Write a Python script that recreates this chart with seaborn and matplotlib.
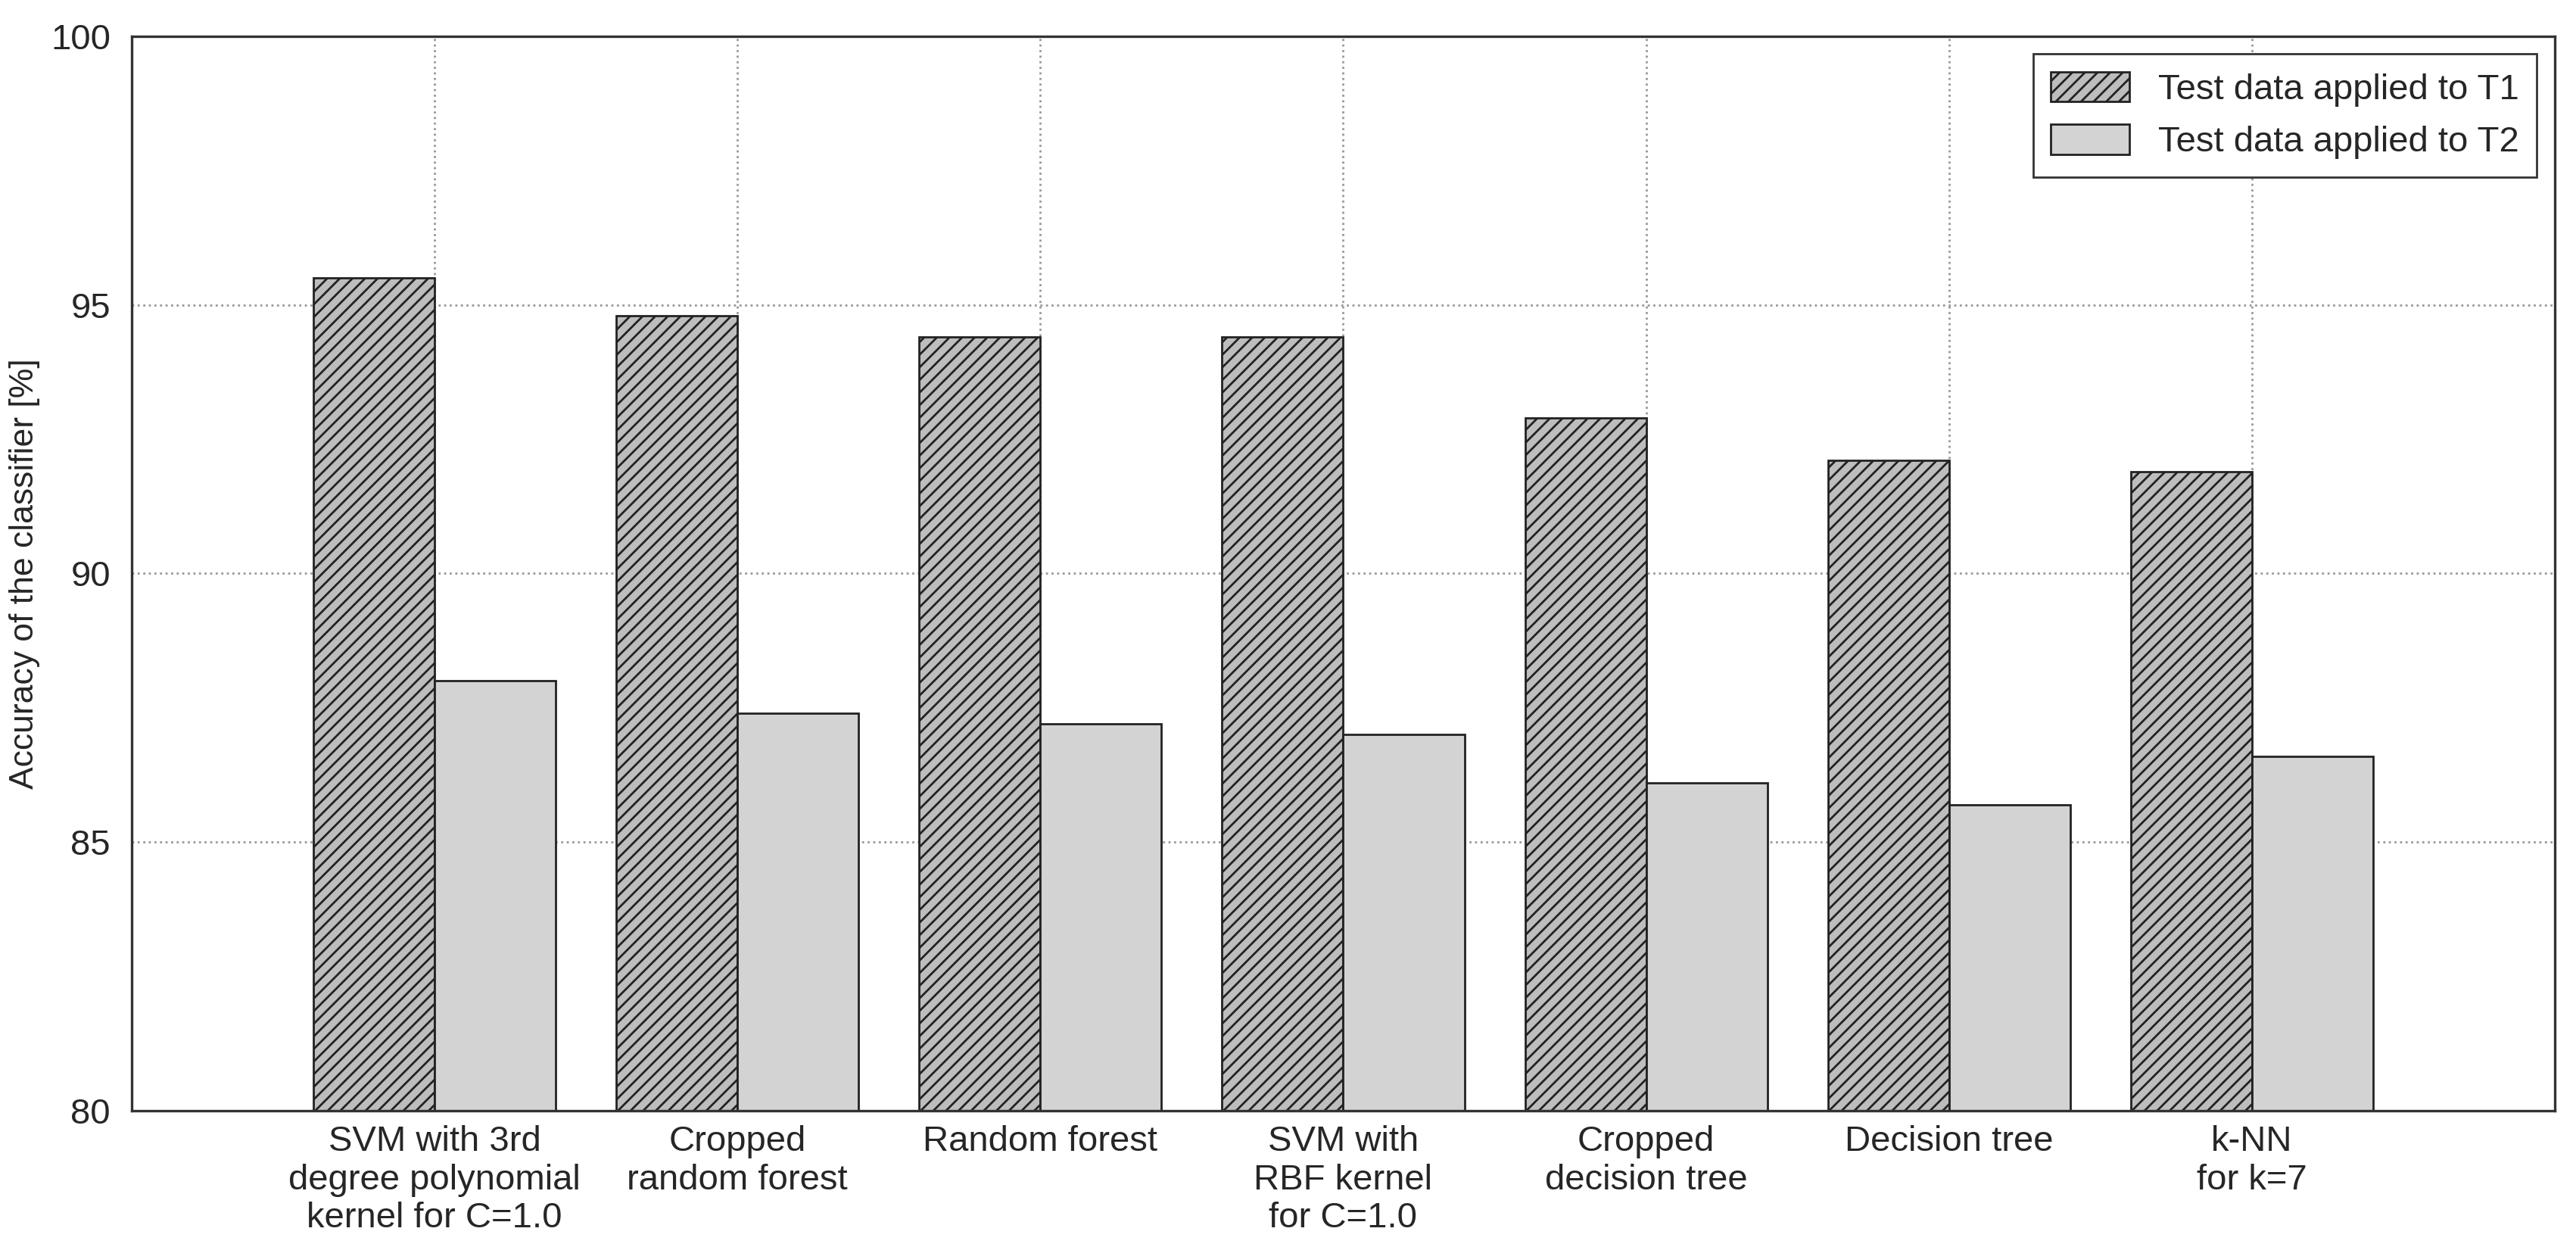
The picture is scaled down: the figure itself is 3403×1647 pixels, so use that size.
import matplotlib
matplotlib.use("Agg")
import matplotlib.pyplot as plt
import seaborn as sns
import pandas as pd
from matplotlib.patches import Patch

categories = [
    "SVM with 3rd\ndegree polynomial\nkernel for C=1.0",
    "Cropped\nrandom forest",
    "Random forest",
    "SVM with\nRBF kernel\nfor C=1.0",
    "Cropped\ndecision tree",
    "Decision tree",
    "k-NN\nfor k=7",
]
series_names = ["Test data applied to T1", "Test data applied to T2"]
t1_values = [95.5, 94.8, 94.4, 94.4, 92.9, 92.1, 91.9]
t2_values = [88.0, 87.4, 87.2, 87.0, 86.1, 85.7, 86.6]

df = pd.DataFrame({
    "classifier": categories * 2,
    "series": [series_names[0]] * len(categories) + [series_names[1]] * len(categories),
    "accuracy": t1_values + t2_values,
})

sns.set_style("white")
plt.rcParams["font.family"] = ["Liberation Sans", "DejaVu Sans"]
plt.rcParams["hatch.linewidth"] = 1.0
plt.rcParams["hatch.color"] = "#333333"

fig = plt.figure(figsize=(3403 / 200, 1647 / 200), dpi=200)
ax = fig.add_axes([0.0511, 0.1093, 0.9407, 0.8617])

colors = {"Test data applied to T1": "#bdbdbd", "Test data applied to T2": "#d3d3d3"}
sns.barplot(data=df, x="classifier", y="accuracy", hue="series",
            order=categories, hue_order=series_names, palette=colors,
            width=0.8, edgecolor="#222222", linewidth=1.0, saturation=1,
            errorbar=None, ax=ax, legend=False, zorder=2)

for bar in ax.containers[0]:
    bar.set_hatch("////")

ax.set_ylim(80, 100)
ax.set_xlim(-1, 7)
ax.set_yticks([80, 85, 90, 95, 100])
ax.set_xlabel("")
ax.set_ylabel("Accuracy of the classifier [%]", fontsize=16, labelpad=5)
ax.tick_params(axis="y", labelsize=17, length=0, pad=10)
ax.tick_params(axis="x", labelsize=17, length=0, pad=7)
for lab in ax.get_xticklabels():
    lab.set_linespacing(1.18)

ax.grid(True, linestyle=":", color="#999999", linewidth=1.0, zorder=0)
ax.set_axisbelow(True)
for s in ax.spines.values():
    s.set_color("#333333")
    s.set_linewidth(1.2)

handles = [
    Patch(facecolor=colors[series_names[0]], edgecolor="#222222", hatch="////", linewidth=1.0),
    Patch(facecolor=colors[series_names[1]], edgecolor="#222222", linewidth=1.0),
]
leg = ax.legend(handles, series_names, loc="upper right", fontsize=17,
                frameon=True, fancybox=False, framealpha=1, edgecolor="#333333",
                borderaxespad=0.5, handlelength=2.2, handleheight=0.9,
                labelspacing=0.5, borderpad=0.5)
leg.get_frame().set_linewidth(1.0)

fig.savefig("out.png", dpi=200)
